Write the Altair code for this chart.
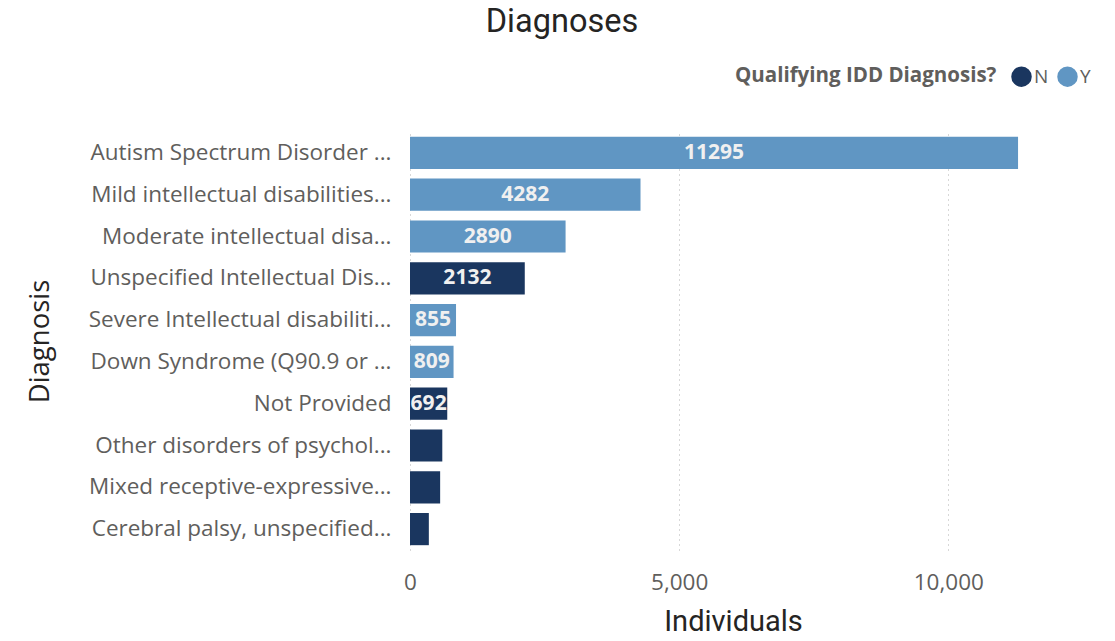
import altair as alt
import pandas as pd

categories = [
    "Autism Spectrum Disorder ...",
    "Mild intellectual disabilities...",
    "Moderate intellectual disa...",
    "Unspecified Intellectual Dis...",
    "Severe Intellectual disabiliti...",
    "Down Syndrome (Q90.9 or ...",
    "Not Provided",
    "Other disorders of psychol...",
    "Mixed receptive-expressive...",
    "Cerebral palsy, unspecified...",
]
individuals = [11295, 4282, 2890, 2132, 855, 809, 692, 600, 560, 350]
qualifying = ["Y", "Y", "Y", "N", "Y", "Y", "N", "N", "N", "N"]
bar_labels = ["11295", "4282", "2890", "2132", "855", "809", "692", "", "", ""]
tick_values = [0, 5000, 10000]

df = pd.DataFrame({
    "Diagnosis": categories,
    "Individuals": individuals,
    "Qualifying": qualifying,
    "Label": bar_labels,
})

FONT = "Open Sans"
DIN = "Roboto"

y_enc = alt.Y(
    "Diagnosis:N",
    sort=categories,
    scale=alt.Scale(paddingInner=0.23, paddingOuter=0.115),
    axis=alt.Axis(
        title="Diagnosis",
        titleFont=FONT, titleFontSize=27.5, titleFontWeight="normal", titleColor="#252423",
        titleAngle=-90, titleX=-370, titleY=209, titleAlign="center", titleBaseline="middle",
        labelFont=FONT, labelFontSize=22.5, labelColor="#605e5c", labelPadding=19, labelLimit=400,
        domain=False, ticks=False, grid=False,
    ),
)

x_enc = alt.X(
    "Individuals:Q",
    scale=alt.Scale(domain=[0, 12000], nice=False),
    axis=alt.Axis(
        title="Individuals",
        values=tick_values, format=",.0f", labelFlush=False,
        titleFont=DIN, titleFontSize=29, titleFontWeight="normal", titleColor="#252423",
        titleY=71, titleBaseline="middle",
        labelFont=FONT, labelFontSize=22.5, labelColor="#605e5c", labelPadding=21,
        domain=False, ticks=False,
        grid=True, gridDash=[1, 4], gridColor="#b0b0b0", gridWidth=1,
    ),
)

bars = alt.Chart(df).mark_bar().encode(
    y=y_enc,
    x=x_enc,
    color=alt.Color(
        "Qualifying:N",
        scale=alt.Scale(domain=["N", "Y"], range=["#1a365f", "#6096c3"]),
        legend=alt.Legend(
            title="Qualifying IDD Diagnosis?",
            orient="none", legendX=325, legendY=-66,
            direction="horizontal", titleOrient="left", titleLimit=500,
            titleFont=FONT, titleFontSize=20.5, titleFontWeight="bold", titleColor="#605e5c",
            titlePadding=14,
            labelFont=FONT, labelFontSize=19, labelColor="#605e5c", labelOffset=2,
            symbolType="circle", symbolSize=420, symbolStrokeWidth=0, columnPadding=8,
        ),
    ),
)

text = alt.Chart(df).mark_text(
    font=FONT, fontSize=21, fontWeight="bold", color="#f0f0f0", baseline="middle", align="center"
).transform_calculate(
    half="datum.Individuals / 2"
).encode(
    y=alt.Y("Diagnosis:N", sort=categories),
    x=alt.X("half:Q"),
    text="Label:N",
)

chart = alt.layer(bars, text).properties(
    width=646,
    height=418,
    padding={"left": 402, "top": 124, "right": 51, "bottom": 83},
    autosize=alt.AutoSizeParams(type="none"),
    title=alt.TitleParams(
        "Diagnoses", font=DIN, fontSize=32.5, fontWeight="normal", color="#252423",
        anchor="middle", dx=-171, offset=28,
    ),
    background="white",
).configure_view(stroke=None)

chart.save("out.html", embed_options={"renderer": "svg", "actions": False})
